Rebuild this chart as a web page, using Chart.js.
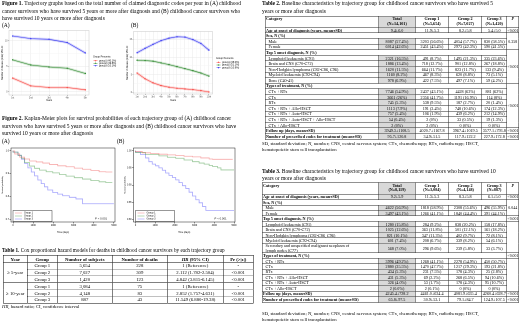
<!DOCTYPE html>
<html>
<head>
<meta charset="utf-8">
<script src="https://cdn.jsdelivr.net/npm/chart.js@4.4.0/dist/chart.umd.min.js"></script>
<style>
html, body { margin: 0; padding: 0; background: #fff; overflow: hidden; }
#page { position: absolute; left: 0; top: 0; width: 1040px; height: 652px; transform: scale(0.5); transform-origin: 0 0;
        font-family: "Liberation Serif", "Times New Roman", serif; color: #000; }
.t { position: absolute; white-space: nowrap; font-size: 11px; line-height: 15px; }
.f { position: absolute; white-space: nowrap; font-size: 9.5px; line-height: 13px; }
canvas { position: absolute; }
table { position: absolute; border-collapse: collapse; table-layout: fixed; }
#t1 { left: 6px; top: 510px; width: 500px; font-size: 9.5px; border: 1.5px solid #000; }
#t1 th { border: 1px solid #000; height: 13px; padding: 0; line-height: 10px; }
#t1 td { border-left: 1px solid #000; border-right: 1px solid #000; border-top: 1px dotted #000; height: 12.6px;
         padding: 0; line-height: 10px; text-align: center; }
#t1 tr.s td { border-top: 1px solid #000; }
.bt { font-size: 8.3px; border: 1.5px solid #000; }
.bt th, .bt td { border: 1px solid #222; padding: 0 1px; line-height: 9px; text-align: center; white-space: nowrap; overflow: hidden; }
.bt th { font-weight: bold; vertical-align: top; }
.bt tr { height: 11.2px; }
.bt tr.h { height: 22px; }
.bt tr.d { height: 21.9px; }
.bt .l { text-align: left; }
.bt .b { font-weight: bold; }
.bt .i { padding-left: 6px; }
.bt .g { background: #d9d9d9; }
.bt .p { font-size: 7.8px; }
#t2 { left: 530px; top: 32px; width: 507px; }
#t3 { left: 524px; top: 365px; width: 513px; }
#t3 tr { height: 10.95px; }
#t3 tr.h { height: 22.7px; }
</style>
</head>
<body>
<div id="page">

<div class="t" style="left:4px;top:-1px"><b>Figure 1.</b> Trajectory graphs based on the total number of claimed diagnostic codes per year in (A) childhood<br>cancer survivors who have survived 5 years or more after diagnosis and (B) childhood cancer survivors who<br>have survived 10 years or more after diagnosis</div>
<div class="t" style="left:4px;top:43px">(A)</div>
<div class="t" style="left:262px;top:43px">(B)</div>
<canvas id="trajA" width="250" height="150" style="left:0px;top:56px;width:250px;height:150px"></canvas>
<canvas id="trajB" width="270" height="150" style="left:250px;top:56px;width:270px;height:150px"></canvas>

<div class="t" style="left:4px;top:229px"><b>Figure 2.</b> Kaplan-Meier plots for survival probabilities of each trajectory group of (A) childhood cancer<br>survivors who have survived 5 years or more after diagnosis and (B) childhood cancer survivors who have<br>survived 10 years or more after diagnosis</div>
<div class="t" style="left:4px;top:275px">(A)</div>
<div class="t" style="left:234px;top:275px">(B)</div>
<canvas id="kmA" width="250" height="184" style="left:0px;top:288px;width:250px;height:184px"></canvas>
<canvas id="kmB" width="250" height="184" style="left:245px;top:288px;width:250px;height:184px"></canvas>

<div class="t" style="left:4px;top:493px;font-size:10.4px"><b>Table 1.</b> Cox proportional hazard models for deaths in childhood cancer survivors by each trajectory group</div>
<table id="t1">
<colgroup><col style="width:48px"><col style="width:60px"><col style="width:110px"><col style="width:110px"><col style="width:112px"><col style="width:60px"></colgroup>
<tr><th>Year</th><th>Group</th><th>Number of subjects</th><th>Number of deaths</th><th><i>HR</i> (95% CI)</th><th>Pr (&gt;|z|)</th></tr>
<tr class="s"><td rowspan="3" style="border-top:1px solid #000">&ge; 5-year</td><td>Group 1</td><td>5,654</td><td>228</td><td>1 (Reference)</td><td>-</td></tr>
<tr><td>Group 2</td><td>7,027</td><td>309</td><td>2.112 (1.782-2.504)</td><td>&lt;0.001</td></tr>
<tr><td>Group 3</td><td>1,420</td><td>123</td><td>4.842 (3.815-6.145)</td><td>&lt;0.001</td></tr>
<tr class="s"><td rowspan="3" style="border-top:1px solid #000">&ge; 10-year</td><td>Group 1</td><td>3,084</td><td>75</td><td>1 (Reference)</td><td>-</td></tr>
<tr><td>Group 2</td><td>4,148</td><td>83</td><td>2.852 (1.757-4.631)</td><td>&lt;0.001</td></tr>
<tr><td>Group 3</td><td>887</td><td>43</td><td>11.549 (6.880-19.38)</td><td>&lt;0.001</td></tr>
</table>
<div class="f" style="left:4px;top:607px"><i>HR</i>, hazard ratio; CI, confidence interval</div>

<div class="t" style="left:524px;top:-1px"><b>Table 2.</b> Baseline characteristics by trajectory group for childhood cancer survivors who have survived 5<br>years or more after diagnosis</div>
<table id="t2" class="bt">
<colgroup><col style="width:227px"><col style="width:73px"><col style="width:67px"><col style="width:66px"><col style="width:50px"><col style="width:24px"></colgroup>
<tr class="h"><th class="l">Category</th><th class="g">Total<br>(N=14,101)</th><th>Group 1<br>(N=5,654)</th><th>Group 2<br>(N=7,027)</th><th>Group 3<br>(N=1,420)</th><th><i>P</i></th></tr>
<tr><td class="l b">Age at onset of diagnosis (years, mean±SD)</td><td class="g">9.4±6.0</td><td>11.9±5.3</td><td>8.2±5.8</td><td>5.4±5.0</td><td class="p">&lt;0.001</td></tr>
<tr><td class="l b" colspan="5">Sex, N (%)</td><td class="p" rowspan="3">0.358</td></tr>
<tr><td class="l i">Male</td><td class="g">8087 (57.4%)</td><td>3203 (56.6%)</td><td>4054 (57.7%)</td><td>830 (58.5%)</td></tr>
<tr><td class="l i">Female</td><td class="g">6014 (42.6%)</td><td>2451 (43.4%)</td><td>2973 (42.3%)</td><td>590 (41.5%)</td></tr>
<tr><td class="l b" colspan="5">Top 5 onset diagnosis, N (%)</td><td class="p" rowspan="6">&lt;0.001</td></tr>
<tr><td class="l i">Lymphoid leukaemia (C91)</td><td class="g">2321 (16.5%)</td><td>491 (8.7%)</td><td>1495 (21.3%)</td><td>335 (23.6%)</td></tr>
<tr><td class="l i">Brain and CNS (C70-C72)</td><td class="g">1886 (13.4%)</td><td>718 (12.7%)</td><td>901 (12.8%)</td><td>267 (18.8%)</td></tr>
<tr><td class="l i">Non-Hodgkin lymphoma (C82-C86, C96)</td><td class="g">1620 (11.5%)</td><td>664 (11.7%)</td><td>823 (11.7%)</td><td>133 (9.4%)</td></tr>
<tr><td class="l i">Myeloid leukaemia (C92-C94)</td><td class="g">1160 (8.2%)</td><td>467 (8.3%)</td><td>620 (8.8%)</td><td>73 (5.1%)</td></tr>
<tr><td class="l i">Bone (C40-41)</td><td class="g">978 (6.9%)</td><td>422 (7.5%)</td><td>497 (7.1%)</td><td>59 (4.2%)</td></tr>
<tr><td class="l b" colspan="5">Types of treatment, N (%)</td><td class="p" rowspan="8">&lt;0.001</td></tr>
<tr><td class="l i">CTx + RTx</td><td class="g">7746 (54.9%)</td><td>2437 (43.1%)</td><td>4428 (63%)</td><td>881 (62%)</td></tr>
<tr><td class="l i">CTx</td><td class="g">3661 (26%)</td><td>2356 (41.7%)</td><td>1191 (16.9%)</td><td>114 (8%)</td></tr>
<tr><td class="l i">RTx</td><td class="g">745 (5.3%)</td><td>538 (9.5%)</td><td>187 (2.7%)</td><td>20 (1.4%)</td></tr>
<tr><td class="l i">CTx + RTx + Allo-HSCT</td><td class="g">1113 (7.9%)</td><td>191 (3.4%)</td><td>748 (10.6%)</td><td>174 (12.3%)</td></tr>
<tr><td class="l i">CTx + RTx + Auto-HSCT</td><td class="g">757 (5.4%)</td><td>106 (1.9%)</td><td>439 (6.2%)</td><td>212 (14.9%)</td></tr>
<tr><td class="l i">CTx + RTx + Auto-HSCT + Allo-HSCT</td><td class="g">54 (0.4%)</td><td>2 (0%)</td><td>33 (0.5%)</td><td>19 (1.3%)</td></tr>
<tr><td class="l i">CTx + Allo-HSCT</td><td class="g">2 (0%)</td><td>2 (0%)</td><td>0 (0%)</td><td>0 (0%)</td></tr>
<tr><td class="l b">Follow up (days, mean±SD)</td><td class="g">3949.3±1108.5</td><td>4020.7±1167.8</td><td>3967.4±1019.5</td><td>3577.1±793.8</td><td class="p">&lt;0.001</td></tr>
<tr><td class="l b">Number of prescribed codes for treatment (mean±SD)</td><td class="g">95.7±120.8</td><td>34.9±51.5</td><td>117.9±122.2</td><td>227.9±172.8</td><td class="p">&lt;0.001</td></tr>
</table>
<div class="f" style="left:524px;top:280px">SD, standard deviation; N, number; CNS, central nervous system; CTx, chemotherapy; RTx, radiotherapy; HSCT,<br>hematopoietic stem cell transplantation</div>

<div class="t" style="left:524px;top:334px"><b>Table 3.</b> Baseline characteristics by trajectory group for childhood cancer survivors who have survived 10<br>years or more after diagnosis</div>
<table id="t3" class="bt">
<colgroup><col style="width:233px"><col style="width:73px"><col style="width:67px"><col style="width:66px"><col style="width:50px"><col style="width:24px"></colgroup>
<tr class="h"><th class="l">Category</th><th class="g">Total<br>(N=8,119)</th><th>Group 1<br>(N=3,084)</th><th>Group 2<br>(N=4,148)</th><th>Group 3<br>(N=887)</th><th><i>P</i></th></tr>
<tr><td class="l b">Age at onset of diagnosis (years, mean±SD)</td><td class="g">9.2±5.9</td><td>11.3±5.3</td><td>8.3±5.8</td><td>6.1±5.0</td><td class="p">&lt;0.001</td></tr>
<tr><td class="l b" colspan="5">Sex, N (%)</td><td class="p" rowspan="3">0.044</td></tr>
<tr><td class="l i">Male</td><td class="g">4622 (56.9%)</td><td>1818 (58.9%)</td><td>2308 (55.6%)</td><td>496 (55.9%)</td></tr>
<tr><td class="l i">Female</td><td class="g">3497 (43.1%)</td><td>1266 (41.1%)</td><td>1840 (44.4%)</td><td>391 (44.1%)</td></tr>
<tr><td class="l b" colspan="5">Top 5 onset diagnosis, N (%)</td><td class="p">&lt;0.001</td></tr>
<tr><td class="l i">Lymphoid leukaemia (C91)</td><td class="g">1280 (15.8%)</td><td>284 (9.2%)</td><td>838 (20.2%)</td><td>158 (17.8%)</td><td rowspan="5"></td></tr>
<tr><td class="l i">Brain and CNS (C70-C72)</td><td class="g">1025 (12.6%)</td><td>363 (11.8%)</td><td>501 (12.1%)</td><td>161 (18.2%)</td></tr>
<tr><td class="l i">Non-Hodgkin lymphoma (C82-C86, C96)</td><td class="g">821 (10.1%)</td><td>347 (11.3%)</td><td>402 (9.7%)</td><td>72 (8.1%)</td></tr>
<tr><td class="l i">Myeloid leukaemia (C92-C94)</td><td class="g">601 (7.4%)</td><td>208 (6.7%)</td><td>339 (8.2%)</td><td>54 (6.1%)</td></tr>
<tr class="d"><td class="l i">Secondary and unspecified malignant neoplasm of<br>lymph nodes (C77)</td><td class="g">568 (7.0%)</td><td>296 (9.6%)</td><td>239 (5.8%)</td><td>33 (3.7%)</td></tr>
<tr><td class="l b" colspan="5">Types of treatment, N (%)</td><td class="p">&lt;0.001</td></tr>
<tr><td class="l i">CTx + RTx</td><td class="g">3996 (49.2%)</td><td>1268 (41.1%)</td><td>2278 (54.9%)</td><td>450 (50.7%)</td><td rowspan="6"></td></tr>
<tr><td class="l i">CTx</td><td class="g">2880 (35.5%)</td><td>1470 (47.7%)</td><td>1217 (29.3%)</td><td>193 (21.8%)</td></tr>
<tr><td class="l i">RTx</td><td class="g">434 (5.3%)</td><td>231 (7.5%)</td><td>178 (4.3%)</td><td>25 (2.8%)</td></tr>
<tr><td class="l i">CTx + RTx + Allo-HSCT</td><td class="g">431 (5.3%)</td><td>69 (2.2%)</td><td>268 (6.5%)</td><td>94 (10.6%)</td></tr>
<tr><td class="l i">CTx + RTx + Auto-HSCT</td><td class="g">326 (4.0%)</td><td>53 (1.7%)</td><td>178 (4.3%)</td><td>95 (10.7%)</td></tr>
<tr><td class="l i">CTx + Allo-HSCT</td><td class="g">2 (0.0%)</td><td>2 (0.1%)</td><td>0 (0%)</td><td>0 (0%)</td></tr>
<tr><td class="l b">Follow up (days, mean±SD)</td><td class="g">4245.4±728.2</td><td>4461.0±634.4</td><td>4081.9±635.4</td><td>4260.4±628.7</td><td class="p">&lt;0.001</td></tr>
<tr><td class="l b">Number of prescribed codes for treatment (mean±SD)</td><td class="g">65.8±97.5</td><td>30.9±53.1</td><td>79.1±84.7</td><td>124.9±107.5</td><td class="p">&lt;0.001</td></tr>
</table>
<div class="f" style="left:524px;top:620px">SD, standard deviation; N, number; CNS, central nervous system; CTx, chemotherapy; RTx, radiotherapy; HSCT,<br>hematopoietic stem cell transplantation</div>

</div>

<script>
// Figure 1 - trajectory data (number of claimed codes per year)
const yearsA = ['1st', '2nd', '3rd', '4th', '5th'];
const yearsB = ['1st', '2nd', '3rd', '4th', '5th', '6th', '7th', '8th', '9th', '10th'];
const trajA_g1 = [2.69, 1.15, 0.83, 0.83, 0.38];
const trajA_g2 = [6.28, 5.26, 4.87, 4.62, 3.59];
const trajA_g3 = [10.96, 10.45, 10.32, 9.68, 7.63];
const trajB_g1 = [5.48, 3.85, 2.69, 1.92, 1.44, 1.15, 0.96, 0.77, 0.48, 0.10];
const trajB_g2 = [9.13, 9.04, 8.85, 8.37, 7.88, 7.31, 6.73, 6.15, 5.48, 4.62];
const trajB_g3 = [11.25, 12.5, 13.65, 14.7, 15.4, 15.8, 15.7, 15.0, 13.9, 12.0];
const legendA = ['group1 (40.1%)', 'group2 (49.8%)', 'group3 (10.1%)'];
const legendB = ['group1 (38.0%)', 'group2 (51.1%)', 'group3 (10.9%)'];
const trajTicksA = [0, 5, 10];
const trajTicksB = [0, 5, 10, 15];

// Figure 2 - Kaplan-Meier curves (time in days, survival probability)
const kmA_t1 = [0, 84, 329, 575, 821, 1150, 1474, 1804, 2212, 2626, 3033, 3442, 3855, 4263, 4592, 4916];
const kmA_s1 = [1, .999, .986, .972, .964, .955, .951, .946, .940, .934, .930, .924, .919, .914, .908, .907];
const kmA_t2 = [0, 246, 413, 575, 821, 1067, 1313, 1642, 1967, 2296, 2625, 3033, 3442, 3855, 4263, 4592, 4916];
const kmA_s2 = [1, .994, .980, .967, .948, .933, .923, .915, .908, .903, .896, .889, .882, .876, .869, .864, .861];
const kmA_t3 = [0, 246, 413, 575, 737, 905, 1067, 1229, 1396, 1558, 1721, 1967, 2212, 2458, 2788, 3117, 3442, 3574, 4995];
const kmA_s3 = [1, .994, .980, .963, .944, .925, .907, .890, .872, .856, .842, .828, .817, .810, .803, .796, .789, .768, .768];
const kmB_t1 = [0, 342, 765, 1189, 1617, 2041, 2464, 2893, 3316, 3740, 3913, 4250, 4934];
const kmB_s1 = [1, .998, .994, .992, .990, .988, .986, .984, .982, .979, .976, .975, .975];
const kmB_t2 = [0, 510, 1189, 1617, 2041, 2464, 2893, 3230, 3485, 3740, 3913, 4168, 4337, 4423, 5000];
const kmB_s2 = [1, .995, .989, .985, .981, .978, .973, .968, .964, .961, .957, .954, .950, .944, .944];
const kmB_t3 = [0, 255, 510, 679, 852, 1020, 1189, 1362, 1531, 1699, 1872, 2041, 2209, 2383, 2551, 2719, 2893, 3061, 3230, 3403, 3571, 3724, 5000];
const kmB_s3 = [1, .996, .989, .979, .968, .961, .956, .950, .943, .935, .928, .922, .915, .907, .898, .890, .879, .868, .857, .848, .837, .826, .826];
const kmGroups = ['Group 1', 'Group 2', 'Group 3'];
const kmDays = [0, 1000, 2000, 3000, 4000, 5000];
const kmTicksA = [0.7, 0.8, 0.9, 1.0];
const kmTicksB = [0.80, 0.85, 0.90, 0.95, 1.00];

const lineCols = ['#f84a46', '#2f8a2f', '#3d3df2'];
const bandCols = ['rgba(248,74,70,0.22)', 'rgba(47,138,47,0.22)', 'rgba(61,61,242,0.22)'];
const kmCols = ['rgba(240,90,90,0.5)', 'rgba(60,150,60,0.5)', 'rgba(80,80,250,0.5)'];

Chart.defaults.font.family = '"Liberation Sans", Arial, sans-serif';
Chart.defaults.color = '#000';

// frame round the plotting area
const panelBox = {
    id: 'panelBox',
    afterDatasetsDraw(chart, args, o) {
        const a = chart.chartArea, c = chart.ctx;
        c.save();
        c.strokeStyle = o.color;
        c.lineWidth = o.width;
        c.strokeRect(a.left, a.top, a.right - a.left, a.bottom - a.top);
        c.restore();
    }
};

// ggplot style legend on the right
const ggLegend = {
    id: 'ggLegend',
    afterDraw(chart, args, o) {
        if (!o.labels) return;
        const c = chart.ctx;
        c.save();
        c.font = '5px "Liberation Sans"';
        c.textBaseline = 'middle';
        c.fillStyle = '#000';
        c.fillText('Group Percents', o.x, o.y);
        o.labels.forEach((lab, i) => {
            const y = o.y0 + o.gap * i;
            c.strokeStyle = lineCols[i];
            c.lineWidth = 1;
            c.beginPath(); c.moveTo(o.x + 1, y); c.lineTo(o.x + 9, y); c.stroke();
            c.fillStyle = lineCols[i];
            c.beginPath(); c.arc(o.x + 5, y, 1.3, 0, Math.PI * 2); c.fill();
            c.fillStyle = '#000';
            c.fillText(lab, o.x + 12, y);
        });
        c.restore();
    }
};

// base R style legend box and p value
const kmLegend = {
    id: 'kmLegend',
    afterDraw(chart, args, o) {
        if (!o.show) return;
        const a = chart.chartArea, c = chart.ctx;
        const x = a.left + 4, y = a.bottom - 23;
        c.save();
        c.fillStyle = '#fff';
        c.fillRect(x, y, 78, 22);
        c.strokeStyle = '#000';
        c.lineWidth = 0.8;
        c.strokeRect(x, y, 78, 22);
        c.font = '5px "Liberation Sans"';
        c.textBaseline = 'middle';
        kmGroups.forEach((g, i) => {
            const yy = y + 5 + i * 6;
            c.strokeStyle = kmCols[i];
            c.lineWidth = 1.4;
            c.beginPath(); c.moveTo(x + 4, yy); c.lineTo(x + 18, yy); c.stroke();
            c.fillStyle = '#000';
            c.fillText(g, x + 22, yy);
        });
        c.font = 'italic 5.5px "Liberation Sans"';
        c.textAlign = 'right';
        const rest = ' < 0.001';
        c.fillText('P', a.right - o.pRight - c.measureText(rest).width - 0.5, a.bottom - 7);
        c.font = '5.5px "Liberation Sans"';
        c.fillText(rest, a.right - o.pRight, a.bottom - 7);
        c.restore();
    }
};

function halfSteps(lo, hi, step, min, max) {
    const out = [];
    for (let v = lo - step / 2; v <= hi + step / 2 + 1e-9; v += step / 2) {
        if (v >= min && v <= max) out.push({value: v});
    }
    return out;
}

function trajChart(id, cats, lists, labels, yTicks, yMin, yMax, lay) {
    const datasets = [];
    lists.forEach((vals, i) => {
        const pts = vals.map((v, k) => ({x: k + 1, y: v}));
        datasets.push({data: pts, borderColor: bandCols[i], borderWidth: 5, pointRadius: 0});
        datasets.push({data: pts, borderColor: lineCols[i], backgroundColor: lineCols[i], borderWidth: 1.1, pointRadius: 1.4, pointBorderWidth: 0});
    });
    const xPad = (cats.length - 1) * 0.05;
    const yStep = yTicks[1] - yTicks[0];
    new Chart(document.getElementById(id), {
        type: 'line',
        data: {datasets: datasets},
        options: {
            responsive: false,
            animation: false,
            layout: {padding: {left: 0, right: lay.right, top: lay.top, bottom: 0}},
            scales: {
                x: {
                    type: 'linear', min: 1 - xPad, max: cats.length + xPad,
                    afterBuildTicks: s => { s.ticks = halfSteps(1.5, cats.length - 0.5, 1, 1, cats.length); },
                    afterFit: s => { s.height = lay.xh; },
                    ticks: {font: {size: 4.6}, color: '#4d4d4d', padding: 1, maxRotation: 0, autoSkip: false,
                            callback: v => Number.isInteger(v) ? cats[v - 1] : ''},
                    grid: {color: c => c.tick && Number.isInteger(c.tick.value) ? '#e3e3e3' : '#f2f2f2',
                           tickColor: c => c.tick && Number.isInteger(c.tick.value) ? '#555' : 'rgba(0,0,0,0)',
                           tickLength: 2, lineWidth: 0.8},
                    border: {display: false},
                    title: {display: true, text: 'Years', font: {size: 5}, padding: {top: 0, bottom: 2}}
                },
                y: {
                    min: yMin, max: yMax,
                    afterBuildTicks: s => { s.ticks = halfSteps(yTicks[0], yTicks[yTicks.length - 1], yStep, yMin, yMax); },
                    afterFit: s => { s.width = lay.yw; },
                    ticks: {font: {size: 4.6}, color: '#4d4d4d', padding: 1,
                            callback: v => yTicks.includes(v) ? String(v) : ''},
                    grid: {color: c => c.tick && yTicks.includes(c.tick.value) ? '#e3e3e3' : '#f2f2f2',
                           tickColor: c => c.tick && yTicks.includes(c.tick.value) ? '#555' : 'rgba(0,0,0,0)',
                           tickLength: 2, lineWidth: 0.8},
                    border: {display: false},
                    title: {display: true, text: 'Number of disease (total) 95% CI', font: {size: 4.6}, padding: {top: 2, bottom: 0}}
                }
            },
            plugins: {
                legend: {display: false},
                tooltip: {enabled: false},
                panelBox: {color: '#c8c8c8', width: 1},
                ggLegend: {labels: labels, x: lay.lx, y: lay.ly, y0: lay.ly0, gap: lay.gap}
            }
        },
        plugins: [panelBox, ggLegend]
    });
}

function kmChart(id, ts, ss, yTicks, yMin, yMax, digits, lay) {
    const datasets = ts.map((t, i) => ({
        data: t.map((d, k) => ({x: d, y: ss[i][k]})),
        stepped: 'after',
        borderColor: kmCols[i],
        borderWidth: 1.6,
        pointRadius: 0
    }));
    new Chart(document.getElementById(id), {
        type: 'line',
        data: {datasets: datasets},
        options: {
            responsive: false,
            animation: false,
            layout: {padding: {left: 0, right: lay.right, top: 8, bottom: 0}},
            scales: {
                x: {
                    type: 'linear', min: -100, max: 5050,
                    afterBuildTicks: s => { s.ticks = kmDays.map(v => ({value: v})); },
                    afterFit: s => { s.height = 28; },
                    ticks: {font: {size: 4.6}, padding: 1, maxRotation: 0, autoSkip: false, callback: v => String(v)},
                    grid: {drawOnChartArea: false, tickLength: 3, color: '#000', lineWidth: 0.8},
                    border: {display: false},
                    title: {display: true, text: 'Time (days)', font: {size: 4.6}, padding: {top: 0, bottom: 5}}
                },
                y: {
                    min: yMin, max: yMax,
                    afterBuildTicks: s => { s.ticks = yTicks.map(v => ({value: v})); },
                    afterFit: s => { s.width = 22; },
                    ticks: {font: {size: 4.6}, padding: 1, callback: v => v.toFixed(digits)},
                    grid: {drawOnChartArea: false, tickLength: 3, color: '#000', lineWidth: 0.8},
                    border: {display: false},
                    title: {display: true, text: 'Survival probability', font: {size: 4.2}, padding: {top: 2, bottom: 0}}
                }
            },
            plugins: {
                legend: {display: false},
                tooltip: {enabled: false},
                panelBox: {color: '#000', width: 0.9},
                kmLegend: {show: true, pRight: lay.pRight}
            }
        },
        plugins: [panelBox, kmLegend]
    });
}

trajChart('trajA', yearsA, [trajA_g1, trajA_g2, trajA_g3], legendA, trajTicksA, -0.64, 12.05,
    {right: 72, top: 5, xh: 16, yw: 18, lx: 186, ly: 57.4, ly0: 65.5, gap: 5});
trajChart('trajB', yearsB, [trajB_g1, trajB_g2, trajB_g3], legendB, trajTicksB, -0.48, 17.3,
    {right: 95, top: 7, xh: 18, yw: 17, lx: 182, ly: 60.6, ly0: 68.6, gap: 5.4});

kmChart('kmA', [kmA_t1, kmA_t2, kmA_t3], [kmA_s1, kmA_s2, kmA_s3], kmTicksA, 0.688, 1.012, 1, {right: 20, pRight: 16});
kmChart('kmB', [kmB_t1, kmB_t2, kmB_t3], [kmB_s1, kmB_s2, kmB_s3], kmTicksB, 0.792, 1.008, 2, {right: 25, pRight: 17});
</script>
</body>
</html>
